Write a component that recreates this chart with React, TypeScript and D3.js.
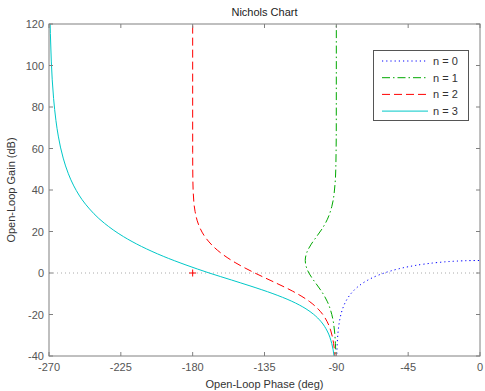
import React from 'react';
import { scaleLinear, line, curveMonotoneY, range } from 'd3';

// series: open-loop phase (deg) and gain (dB)
const seriesNames = ['n = 0', 'n = 1', 'n = 2', 'n = 3'];

const phase0 = [-0.57, -5.71, -11.31, -16.7, -26.57, -34.99, -45, -56.31, -63.43, -71.57, -75.96, -78.69, -81.87, -84.29, -86.19, -87.14, -88.09, -88.85, -89.43, -89.71, -89.81];
const gain0 = [6.02, 5.98, 5.85, 5.65, 5.05, 4.29, 3.01, 0.9, -0.97, -3.98, -6.28, -8.13, -10.97, -14.02, -17.52, -20.01, -23.53, -27.96, -33.98, -39.98, -43.5];

const phase1 = [-90, -90.03, -90.29, -90.86, -92.85, -95.6, -98.17, -102.53, -105.7, -108.43, -109.47, -108.43, -105.26, -102.53, -98.97, -95.6, -92.85, -91.14, -90.58, -90.28, -90.19];
const gain1 = [132, 72.04, 52.04, 42.5, 32.01, 25.89, 22.22, 17.36, 13.91, 10, 6.05, 2.04, -2.38, -5.31, -9.2, -13.85, -19.97, -27.95, -33.98, -40, -43.5];

const phase2 = [-180, -180, -180, -180, -179.99, -179.89, -179.64, -178.49, -176.41, -171.87, -162.57, -153.43, -141.04, -129.09, -117.41, -106.91, -101.38, -98.56, -95.72, -93.43, -91.72, -90.86, -90.57];
const gain2 = [125, 118.98, 98.06, 78.98, 58.04, 45.94, 38.8, 29.66, 23.53, 16.99, 9.78, 5.05, -0.01, -4.35, -8.75, -13.68, -17.37, -19.92, -23.49, -27.95, -33.97, -40, -43.5];

const phase3 = [-269.43, -269.28, -269.14, -268.57, -267.12, -265.66, -264.18, -261.11, -257.87, -254.46, -247.12, -235.3, -223.36, -212.01, -198.43, -184.18, -169.6, -155.66, -144.09, -129.72, -118.22, -108.97, -104.27, -99.53, -95.72, -92.87, -91.43, -90.95];
const gain3 = [126, 120.2, 115.45, 102.14, 84.07, 73.49, 65.98, 55.37, 47.83, 41.97, 33.15, 23.98, 17.54, 12.77, 8.06, 3.86, 0, -3.38, -6.2, -9.95, -13.51, -17.29, -19.88, -23.47, -27.94, -33.97, -40, -43.5];

const phases = [phase0, phase1, phase2, phase3];
const gains = [gain0, gain1, gain2, gain3];
const colors = ['#0000ff', '#00a800', '#ff0000', '#00c8c8'];
const dashes = ['1.2,3', '8,3,1.5,3', '8,4', 'none'];

const xTicks = [-270, -225, -180, -135, -90, -45, 0];
const yTicks = [-40, -20, 0, 20, 40, 60, 80, 100, 120];

const W = 485;
const H = 391;
const L = 49, R = 480, T = 24, B = 356;
const axisCol = '#808080';
const font = 'Liberation Sans, Arial, sans-serif';

export default function App() {
  const x = scaleLinear().domain([-270, 0]).range([L, R]);
  const y = scaleLinear().domain([-40, 120]).range([B, T]);

  const path = line<[number, number]>()
    .x(d => x(d[0]))
    .y(d => y(d[1]))
    .curve(curveMonotoneY);

  return (
    <div style={{ position: 'fixed', left: 0, top: 0 }}>
      <svg width={W} height={H} style={{ display: 'block', background: '#fff' }} fontFamily={font}>
        <defs>
          <clipPath id="plot">
            <rect x={L} y={T} width={R - L} height={B - T} />
          </clipPath>
        </defs>
        <rect x={L} y={T} width={R - L} height={B - T} fill="#fff" />

        {/* 0 dB line */}
        <line x1={L} x2={R} y1={y(0)} y2={y(0)} stroke="#aaa" strokeDasharray="1,3" />

        <g clipPath="url(#plot)">
          {phases.map((ph, i) => (
            <path
              key={i}
              d={path(ph.map((p, j) => [p, gains[i][j]] as [number, number])) || ''}
              fill="none"
              stroke={colors[i]}
              strokeWidth={1}
              strokeDasharray={dashes[i]}
            />
          ))}
        </g>

        {/* critical point */}
        <g stroke="#ff0000" strokeWidth={1}>
          <line x1={x(-180) - 3.5} x2={x(-180) + 3.5} y1={y(0)} y2={y(0)} />
          <line x1={x(-180)} x2={x(-180)} y1={y(0) - 3.5} y2={y(0) + 3.5} />
        </g>

        {/* axes box */}
        <rect x={L} y={T} width={R - L} height={B - T} fill="none" stroke={axisCol} />
        {xTicks.map(t => (
          <g key={'x' + t} stroke={axisCol}>
            <line x1={x(t)} x2={x(t)} y1={B} y2={B - 4} />
            <line x1={x(t)} x2={x(t)} y1={T} y2={T + 4} />
          </g>
        ))}
        {yTicks.map(t => (
          <g key={'y' + t} stroke={axisCol}>
            <line x1={L} x2={L + 4} y1={y(t)} y2={y(t)} />
            <line x1={R} x2={R - 4} y1={y(t)} y2={y(t)} />
          </g>
        ))}
        {xTicks.map(t => (
          <text key={'xl' + t} x={x(t)} y={B + 15} fontSize={11} fill="#555" textAnchor="middle">{t}</text>
        ))}
        {yTicks.map(t => (
          <text key={'yl' + t} x={L - 5} y={y(t) + 4} fontSize={11} fill="#555" textAnchor="end">{t}</text>
        ))}

        <text x={(L + R) / 2} y={16} fontSize={11} fill="#222" textAnchor="middle">Nichols Chart</text>
        <text x={(L + R) / 2} y={388} fontSize={11} fill="#333" textAnchor="middle">Open-Loop Phase (deg)</text>
        <text transform={`translate(15,${(T + B) / 2}) rotate(-90)`} fontSize={11} fill="#333" textAnchor="middle">Open-Loop Gain (dB)</text>

        {/* legend */}
        <rect x={373.5} y={50.5} width={95} height={70} fill="#fff" stroke="#555" />
        {range(4).map(i => {
          const ly = 61 + i * 16.7;
          return (
            <g key={'lg' + i}>
              <line x1={382} x2={428} y1={ly} y2={ly} stroke={colors[i]} strokeDasharray={dashes[i]} />
              <text x={433} y={ly + 4} fontSize={11} fill="#333">{seriesNames[i]}</text>
            </g>
          );
        })}
      </svg>
    </div>
  );
}
